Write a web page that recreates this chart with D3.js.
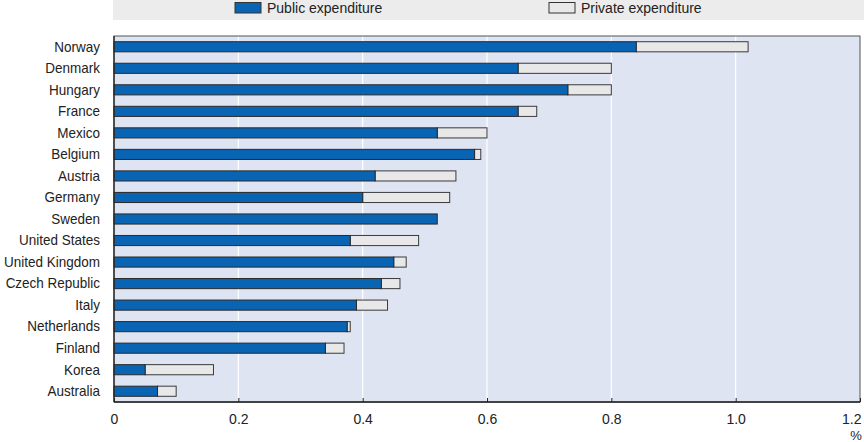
<!DOCTYPE html>
<html><head><meta charset="utf-8">
<script src="https://cdn.jsdelivr.net/npm/d3@7"></script>
<style>
body{margin:0;background:#fff;}
text{font-family:"Liberation Sans Narrow","Arial Narrow","Liberation Sans",sans-serif;fill:#222;}
</style></head>
<body><svg id="c" width="864" height="442"></svg>
<script>
const countries = ["Norway","Denmark","Hungary","France","Mexico","Belgium","Austria","Germany","Sweden","United States","United Kingdom","Czech Republic","Italy","Netherlands","Finland","Korea","Australia"];
const publicExp  = [0.84,0.65,0.73,0.65,0.52,0.58,0.42,0.40,0.52,0.38,0.45,0.43,0.39,0.375,0.34,0.05,0.07];
const privateExp = [0.18,0.15,0.07,0.03,0.08,0.01,0.13,0.14,0.00,0.11,0.02,0.03,0.05,0.005,0.03,0.11,0.03];
const xTicks = [0,0.2,0.4,0.6,0.8,1.0,1.2];
const xTickLabels = ["0","0.2","0.4","0.6","0.8","1.0","1.2"];
const seriesNames = ["Public expenditure","Private expenditure"];
const colors = ["#0a64b4","#e8e8e8"];

const svg = d3.select("#c");
const L = 114, R = 860, T = 36, B = 402;
const x = d3.scaleLinear().domain([0,1.2]).range([L,R]);
const y = d3.scaleBand().domain(countries).range([T,B]).paddingInner(0.53).paddingOuter(0.265);

// legend band
svg.append("rect").attr("x",113).attr("y",0).attr("width",751).attr("height",20).attr("fill","#ececec");
const legX = [235,549];
seriesNames.forEach((s,i)=>{
  svg.append("rect").attr("x",legX[i]).attr("y",2.5).attr("width",26).attr("height",10.5)
    .attr("fill",colors[i]).attr("stroke","#333").attr("stroke-width",1);
  svg.append("text").attr("x",legX[i]+32).attr("y",13).attr("font-size",14).text(s);
});

// plot bg
svg.append("rect").attr("x",L).attr("y",T).attr("width",R-L).attr("height",B-T).attr("fill","#dfe4f3");
// gridlines
svg.append("g").selectAll("line").data(xTicks.slice(1,-1)).join("line")
  .attr("x1",d=>x(d)).attr("x2",d=>x(d)).attr("y1",T).attr("y2",B)
  .attr("stroke","#fff").attr("stroke-width",1.2);

// bars
const rows = countries.map((c,i)=>({c,p:publicExp[i],q:privateExp[i]}));
const g = svg.append("g");
g.selectAll(".priv").data(rows.filter(d=>d.q>0)).join("rect")
  .attr("x",d=>x(d.p)).attr("y",d=>y(d.c)).attr("width",d=>x(d.p+d.q)-x(d.p)).attr("height",y.bandwidth())
  .attr("fill",colors[1]).attr("stroke","#3a3a3a").attr("stroke-width",1);
g.selectAll(".pub").data(rows).join("rect")
  .attr("x",x(0)).attr("y",d=>y(d.c)).attr("width",d=>x(d.p)-x(0)).attr("height",y.bandwidth())
  .attr("fill",colors[0]).attr("stroke","#2a2a2a").attr("stroke-width",1);

// frame
svg.append("rect").attr("x",L).attr("y",T).attr("width",R-L).attr("height",B-T)
  .attr("fill","none").attr("stroke","#555").attr("stroke-width",1);
svg.append("line").attr("x1",L).attr("x2",L).attr("y1",T).attr("y2",B).attr("stroke","#222").attr("stroke-width",1.3);
svg.append("line").attr("x1",L).attr("x2",R).attr("y1",B).attr("y2",B).attr("stroke","#222").attr("stroke-width",1.3);

// x axis
const xa = d3.axisBottom(x).tickValues(xTicks).tickFormat((d,i)=>xTickLabels[i]).tickSize(-4).tickPadding(12);
const ax = svg.append("g").attr("transform",`translate(0,${B})`).call(xa);
ax.select(".domain").remove();
ax.selectAll(".tick line").attr("stroke","#222");
ax.selectAll("text").attr("font-size",14).attr("fill","#222");
ax.selectAll(".tick").filter(d=>d===1.2).select("text").attr("text-anchor","end").attr("x",1);
svg.append("text").attr("x",R-4).attr("y",440).attr("text-anchor","middle").attr("font-size",13).text("%");

// y labels
const ya = d3.axisLeft(y).tickSize(0).tickPadding(14);
const ay = svg.append("g").attr("transform",`translate(${L},0)`).call(ya);
ay.select(".domain").remove();
ay.selectAll("text").attr("font-size",15).attr("fill","#222").attr("x",-15.5).attr("transform","scale(0.9,1)");
</script></body></html>
